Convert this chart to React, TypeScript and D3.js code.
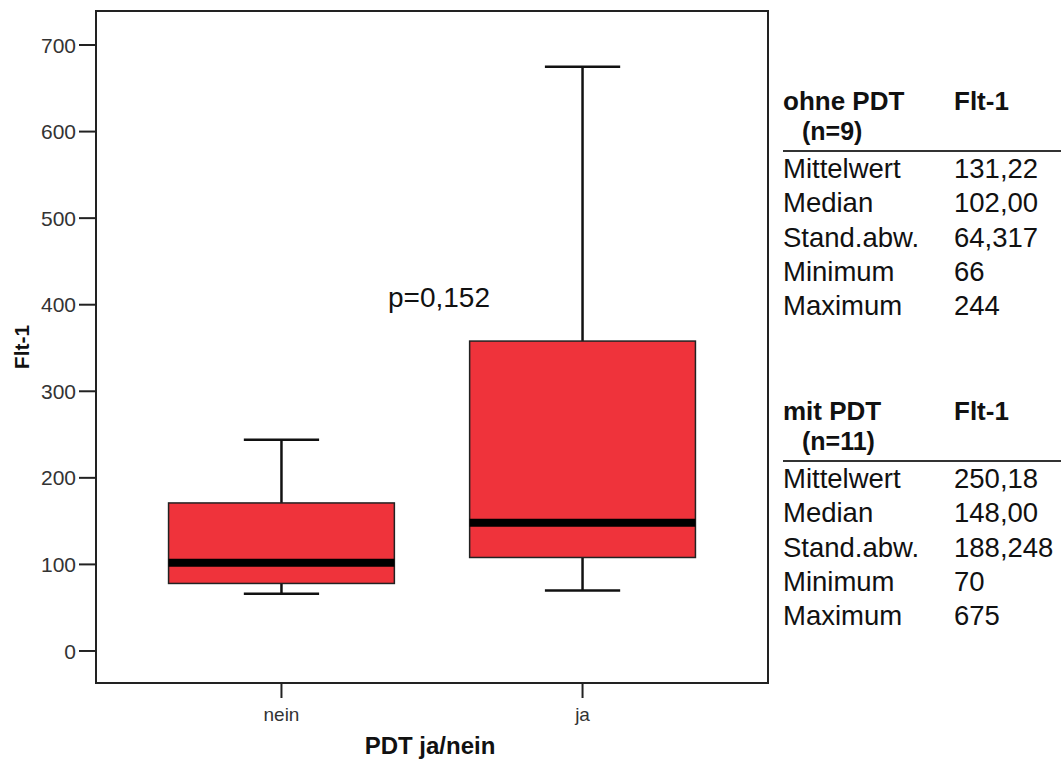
import React from 'react';
import * as d3 from 'd3';

const categories = ['nein', 'ja'];
const whiskerLow = [66, 70];
const q1 = [78, 108];
const medians = [102, 148];
const q3 = [171, 358];
const whiskerHigh = [244, 675];
const yTicks = [0, 100, 200, 300, 400, 500, 600, 700];

const statLabels = ['Mittelwert', 'Median', 'Stand.abw.', 'Minimum', 'Maximum'];
const ohneValues = ['131,22', '102,00', '64,317', '66', '244'];
const mitValues = ['250,18', '148,00', '188,248', '70', '675'];
const tableGroups = [
  { title: 'ohne PDT', n: '(n=9)', values: ohneValues },
  { title: 'mit PDT', n: '(n=11)', values: mitValues },
];

const W = 1061;
const H = 763;
const left = 96, right = 768, top = 11, bottom = 683;
const font = '"Liberation Sans", Arial, sans-serif';

export default function App() {
  const x = d3.scalePoint<string>().domain(categories).range([left, right]).padding(0.616);
  const y = d3.scaleLinear().domain([-37, 739.3]).range([bottom, top]);
  const bw = x.step() * 0.75;
  const capW = bw / 3;

  return (
    <svg width={W} height={H} style={{ position: 'absolute', left: 0, top: 0, background: '#fff' }} fontFamily={font}>
      <rect x={0} y={0} width={W} height={H} fill="#fff" />
      {/* y ticks */}
      {yTicks.map((t) => (
        <g key={t}>
          <line x1={79} x2={left} y1={y(t)} y2={y(t)} stroke="#222" strokeWidth={2} />
          <text x={76} y={y(t)} dy="0.36em" textAnchor="end" fontSize={21} fill="#333">{t}</text>
        </g>
      ))}
      {/* x ticks */}
      {categories.map((c) => (
        <g key={c}>
          <line x1={x(c)} x2={x(c)} y1={bottom} y2={698} stroke="#222" strokeWidth={2} />
          <text x={x(c)} y={721} textAnchor="middle" fontSize={19} fill="#333">{c}</text>
        </g>
      ))}
      {/* boxes */}
      {categories.map((c, i) => {
        const cx = x(c) as number;
        return (
          <g key={'b' + c}>
            <line x1={cx} x2={cx} y1={y(whiskerHigh[i])} y2={y(q3[i])} stroke="#111" strokeWidth={2.5} />
            <line x1={cx} x2={cx} y1={y(q1[i])} y2={y(whiskerLow[i])} stroke="#111" strokeWidth={2.5} />
            <line x1={cx - capW / 2} x2={cx + capW / 2} y1={y(whiskerHigh[i])} y2={y(whiskerHigh[i])} stroke="#111" strokeWidth={2.5} />
            <line x1={cx - capW / 2} x2={cx + capW / 2} y1={y(whiskerLow[i])} y2={y(whiskerLow[i])} stroke="#111" strokeWidth={2.5} />
            <rect x={cx - bw / 2} y={y(q3[i])} width={bw} height={y(q1[i]) - y(q3[i])} fill="#EF333B" stroke="#222" strokeWidth={1.5} />
            <line x1={cx - bw / 2} x2={cx + bw / 2} y1={y(medians[i])} y2={y(medians[i])} stroke="#000" strokeWidth={8} />
          </g>
        );
      })}
      {/* frame */}
      <rect x={left} y={top} width={right - left} height={bottom - top} fill="none" stroke="#222" strokeWidth={2} />
      {/* annotation */}
      <text x={388} y={307} fontSize={28} fill="#111">p=0,152</text>
      {/* axis titles */}
      <text x={430} y={754} textAnchor="middle" fontSize={24} fontWeight="bold" fill="#111">PDT ja/nein</text>
      <text transform={`translate(29,${(top + bottom) / 2}) rotate(-90)`} textAnchor="middle" fontSize={21} fontWeight="bold" fill="#111">Flt-1</text>
      {/* tables */}
      {tableGroups.map((g, gi) => {
        const oy = gi * 310;
        return (
          <g key={g.title} fill="#111">
            <text x={783} y={110 + oy} fontSize={26} fontWeight="bold">{g.title}</text>
            <text x={954} y={110 + oy} fontSize={26} fontWeight="bold">Flt-1</text>
            <text x={802} y={140 + oy} fontSize={25} fontWeight="bold">{g.n}</text>
            <line x1={783} x2={W} y1={151 + oy} y2={151 + oy} stroke="#333" strokeWidth={2} />
            {statLabels.map((s, i) => (
              <g key={s}>
                <text x={783} y={178 + oy + i * 34.3} fontSize={27.5}>{s}</text>
                <text x={954} y={178 + oy + i * 34.3} fontSize={27.5}>{g.values[i]}</text>
              </g>
            ))}
          </g>
        );
      })}
    </svg>
  );
}
